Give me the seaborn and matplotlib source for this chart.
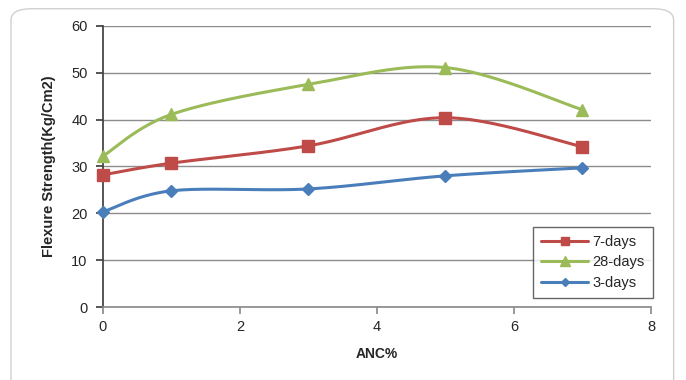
import numpy as np
import pandas as pd
import matplotlib
matplotlib.use("Agg")
import matplotlib.pyplot as plt
import seaborn as sns
from matplotlib.lines import Line2D
from matplotlib.patches import FancyBboxPatch

x_vals = [0, 1, 3, 5, 7]
days7 = [28.2, 30.7, 34.4, 40.4, 34.2]
days28 = [32.2, 41.1, 47.5, 51.1, 42.1]
days3 = [20.3, 24.8, 25.2, 28.0, 29.7]
series_names = ["7-days", "28-days", "3-days"]
x_ticks = [0, 2, 4, 6, 8]
y_ticks = [0, 10, 20, 30, 40, 50, 60]

colors = {"7-days": "#BE4B48", "28-days": "#9BBB59", "3-days": "#4A7EBB"}
markers = {"7-days": "s", "28-days": "^", "3-days": "D"}
msizes = {"7-days": 8, "28-days": 9, "3-days": 6}


def smooth(xs, ys, n=40):
    # Excel-style smoothing: cubic Bezier with Catmull-Rom control points
    xs = np.asarray(xs, float)
    ys = np.asarray(ys, float)
    px, py = [], []
    m = len(xs)
    for i in range(m - 1):
        p0 = np.array([xs[max(i - 1, 0)], ys[max(i - 1, 0)]])
        p1 = np.array([xs[i], ys[i]])
        p2 = np.array([xs[i + 1], ys[i + 1]])
        p3 = np.array([xs[min(i + 2, m - 1)], ys[min(i + 2, m - 1)]])
        c1 = p1 + (p2 - p0) / 6.0
        c2 = p2 - (p3 - p1) / 6.0
        t = np.linspace(0, 1, n)[:, None]
        pts = ((1 - t) ** 3) * p1 + 3 * ((1 - t) ** 2) * t * c1 + 3 * (1 - t) * t ** 2 * c2 + t ** 3 * p2
        px.extend(pts[:, 0])
        py.extend(pts[:, 1])
    return np.array(px), np.array(py)


sns.set_theme(style="white")
plt.rcParams["font.family"] = ["Liberation Sans", "DejaVu Sans"]

fig = plt.figure(figsize=(6.86, 3.80), dpi=100)
ax = fig.add_axes([0.150, 0.192, 0.799, 0.740])

# rounded border around the figure
border = FancyBboxPatch((0.016, -0.05), 0.966, 1.027, boxstyle="round,pad=0,rounding_size=0.03",
                        transform=fig.transFigure, facecolor="none", edgecolor="#D0D0D0",
                        linewidth=1.0, zorder=0)
fig.patches.append(border)

data = {"7-days": days7, "28-days": days28, "3-days": days3}
for name in series_names:
    sx, sy = smooth(x_vals, data[name])
    df = pd.DataFrame({"x": sx, "y": sy})
    sns.lineplot(data=df, x="x", y="y", sort=False, ax=ax, color=colors[name], linewidth=2.2, zorder=3)
    pdf = pd.DataFrame({"x": x_vals, "y": data[name]})
    ax.plot(pdf["x"], pdf["y"], linestyle="none", marker=markers[name], markersize=msizes[name],
            color=colors[name], markeredgecolor=colors[name], zorder=4, clip_on=False)

ax.set_xlim(0, 8)
ax.set_ylim(0, 60)
ax.set_xticks(x_ticks)
ax.set_yticks(y_ticks)
ax.yaxis.grid(True, color="#8C8C8C", linewidth=1.0)
ax.xaxis.grid(False)
ax.set_axisbelow(True)
for s in ["top", "right"]:
    ax.spines[s].set_visible(False)
ax.spines["left"].set_color("#404040")
ax.spines["bottom"].set_color("#8C8C8C")
ax.tick_params(axis="y", direction="out", length=5, color="#404040", labelsize=10.5, left=True, pad=6)
ax.tick_params(axis="x", direction="out", length=5, color="#8C8C8C", labelsize=10.5, bottom=True, pad=4)

ax.set_xlabel("ANC%", fontsize=10, fontweight="bold", labelpad=10)
ax.set_ylabel("Flexure Strength(Kg/Cm2)", fontsize=10.5, fontweight="bold",
              family=["Liberation Sans Narrow", "Liberation Sans", "DejaVu Sans"], labelpad=11)

handles = [Line2D([0], [0], color=colors[n], marker=markers[n], markersize=msizes[n] * 0.75,
                  linewidth=2.2) for n in series_names]
leg = ax.legend(handles, series_names, loc="lower right", bbox_to_anchor=(1.003, 0.032),
                borderaxespad=0, frameon=True, fancybox=False, edgecolor="#404040", fontsize=10.5,
                handlelength=3.2, borderpad=0.55, labelspacing=0.45, handletextpad=0.3)
leg.get_frame().set_linewidth(1.0)

fig.savefig("out.png", dpi=100)
